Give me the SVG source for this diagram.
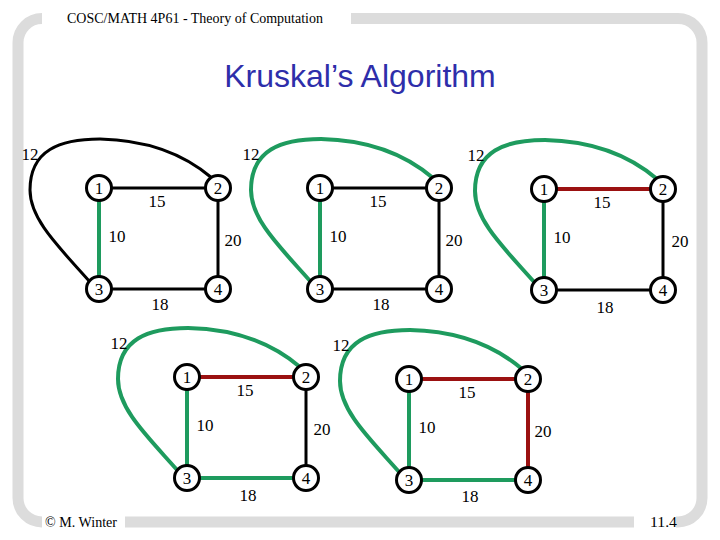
<svg xmlns="http://www.w3.org/2000/svg" width="720" height="540" viewBox="0 0 720 540">
<style>
.frame{fill:none;stroke:#dcdcdc;stroke-width:11}
.hdr{font-family:"Liberation Serif","Times New Roman",serif;font-size:14px;fill:#000}
.title{font-family:"Liberation Sans",Arial,sans-serif;font-size:32px;fill:#2e2eaa}
.t{font-family:"Liberation Serif","Times New Roman",serif;font-size:17px;fill:#000;text-anchor:middle}
.c{fill:#fff;stroke:#000;stroke-width:3}
.e{fill:none;stroke-width:3;stroke:#000}
.g{stroke:#1e9b5e;stroke-width:4}
.r{stroke:#9b1111;stroke-width:4}
</style>
<defs>
<path id="curve" d="M90,282 C60,248 30,220 30,190 C30,150 60,139 100,139 C150,140 185,155 212,178"/>
</defs>
<g id="frame">
<path class="frame" d="M42,18.5 A24,24 0 0 0 18,42.5 L18,498 A24,24 0 0 0 42,522"/>
<path class="frame" d="M351,18.5 L678,18.5 A24,24 0 0 1 702,42.5 L702,498 A24,24 0 0 1 678,522 L676,522"/>
<path class="frame" d="M125,522 L634,522"/>
</g>
<text class="hdr" x="67" y="23" textLength="256" lengthAdjust="spacingAndGlyphs">COSC/MATH 4P61 - Theory of Computation</text>
<text class="title" x="360" y="87" text-anchor="middle">Kruskal’s Algorithm</text>
<text class="hdr" x="45" y="527" textLength="72" lengthAdjust="spacingAndGlyphs">© M. Winter</text>
<text class="hdr" x="650" y="527" textLength="27" lengthAdjust="spacingAndGlyphs">11.4</text>

<g id="graph1">
<g id="connectors1">
<line class="e" x1="99" y1="188" x2="218" y2="188"/>
<line class="e g" x1="99" y1="188" x2="99" y2="289"/>
<line class="e" x1="218" y1="188" x2="218" y2="289"/>
<line class="e" x1="99" y1="289" x2="218" y2="289"/>
<use href="#curve" class="e"/>
<text class="t" x="157" y="207">15</text><text class="t" x="117" y="242">10</text><text class="t" x="233" y="246">20</text><text class="t" x="160" y="310">18</text><text class="t" x="30" y="160">12</text>
</g>
<g id="g1n1"><circle class="c" cx="99" cy="188" r="12.5"/><text class="t" x="99" y="194">1</text></g>
<g id="g1n2"><circle class="c" cx="218" cy="188" r="12.5"/><text class="t" x="218" y="194">2</text></g>
<g id="g1n3"><circle class="c" cx="99" cy="289" r="12.5"/><text class="t" x="99" y="295">3</text></g>
<g id="g1n4"><circle class="c" cx="218" cy="289" r="12.5"/><text class="t" x="218" y="295">4</text></g>
</g>

<g id="graph2" transform="translate(221,0)">
<g id="connectors2">
<line class="e" x1="99" y1="188" x2="218" y2="188"/>
<line class="e g" x1="99" y1="188" x2="99" y2="289"/>
<line class="e" x1="218" y1="188" x2="218" y2="289"/>
<line class="e" x1="99" y1="289" x2="218" y2="289"/>
<use href="#curve" class="e g"/>
<text class="t" x="157" y="207">15</text><text class="t" x="117" y="242">10</text><text class="t" x="233" y="246">20</text><text class="t" x="160" y="310">18</text><text class="t" x="30" y="160">12</text>
</g>
<g id="g2n1"><circle class="c" cx="99" cy="188" r="12.5"/><text class="t" x="99" y="194">1</text></g>
<g id="g2n2"><circle class="c" cx="218" cy="188" r="12.5"/><text class="t" x="218" y="194">2</text></g>
<g id="g2n3"><circle class="c" cx="99" cy="289" r="12.5"/><text class="t" x="99" y="295">3</text></g>
<g id="g2n4"><circle class="c" cx="218" cy="289" r="12.5"/><text class="t" x="218" y="295">4</text></g>
</g>

<g id="graph3" transform="translate(445,1)">
<g id="connectors3">
<line class="e r" x1="99" y1="188" x2="218" y2="188"/>
<line class="e g" x1="99" y1="188" x2="99" y2="289"/>
<line class="e" x1="218" y1="188" x2="218" y2="289"/>
<line class="e" x1="99" y1="289" x2="218" y2="289"/>
<use href="#curve" class="e g"/>
<text class="t" x="157" y="207">15</text><text class="t" x="117" y="242">10</text><text class="t" x="235" y="246">20</text><text class="t" x="160" y="312">18</text><text class="t" x="31" y="160">12</text>
</g>
<g id="g3n1"><circle class="c" cx="99" cy="188" r="12.5"/><text class="t" x="99" y="194">1</text></g>
<g id="g3n2"><circle class="c" cx="218" cy="188" r="12.5"/><text class="t" x="218" y="194">2</text></g>
<g id="g3n3"><circle class="c" cx="99" cy="289" r="12.5"/><text class="t" x="99" y="295">3</text></g>
<g id="g3n4"><circle class="c" cx="218" cy="289" r="12.5"/><text class="t" x="218" y="295">4</text></g>
</g>

<g id="graph4" transform="translate(88,189)">
<g id="connectors4">
<line class="e r" x1="99" y1="188" x2="218" y2="188"/>
<line class="e g" x1="99" y1="188" x2="99" y2="289"/>
<line class="e" x1="218" y1="188" x2="218" y2="289"/>
<line class="e g" x1="99" y1="289" x2="218" y2="289"/>
<use href="#curve" class="e g"/>
<text class="t" x="157" y="207">15</text><text class="t" x="117" y="242">10</text><text class="t" x="234" y="246">20</text><text class="t" x="160" y="312">18</text><text class="t" x="31" y="160">12</text>
</g>
<g id="g4n1"><circle class="c" cx="99" cy="188" r="12.5"/><text class="t" x="99" y="194">1</text></g>
<g id="g4n2"><circle class="c" cx="218" cy="188" r="12.5"/><text class="t" x="218" y="194">2</text></g>
<g id="g4n3"><circle class="c" cx="99" cy="289" r="12.5"/><text class="t" x="99" y="295">3</text></g>
<g id="g4n4"><circle class="c" cx="218" cy="289" r="12.5"/><text class="t" x="218" y="295">4</text></g>
</g>

<g id="graph5" transform="translate(310,191)">
<g id="connectors5">
<line class="e r" x1="99" y1="188" x2="218" y2="188"/>
<line class="e g" x1="99" y1="188" x2="99" y2="289"/>
<line class="e r" x1="218" y1="188" x2="218" y2="289"/>
<line class="e g" x1="99" y1="289" x2="218" y2="289"/>
<use href="#curve" class="e g"/>
<text class="t" x="157" y="207">15</text><text class="t" x="117" y="242">10</text><text class="t" x="233" y="246">20</text><text class="t" x="160" y="311">18</text><text class="t" x="31" y="160">12</text>
</g>
<g id="g5n1"><circle class="c" cx="99" cy="188" r="12.5"/><text class="t" x="99" y="194">1</text></g>
<g id="g5n2"><circle class="c" cx="218" cy="188" r="12.5"/><text class="t" x="218" y="194">2</text></g>
<g id="g5n3"><circle class="c" cx="99" cy="289" r="12.5"/><text class="t" x="99" y="295">3</text></g>
<g id="g5n4"><circle class="c" cx="218" cy="289" r="12.5"/><text class="t" x="218" y="295">4</text></g>
</g>
</svg>
